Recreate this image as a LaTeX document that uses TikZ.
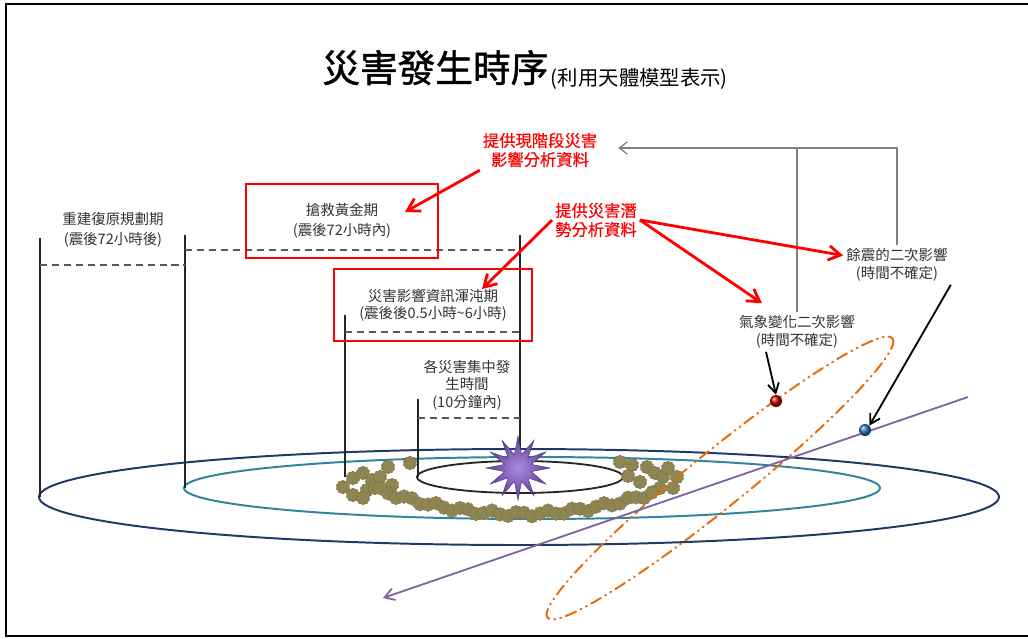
\documentclass[tikz,border=0pt]{standalone}
\usepackage{fontspec}
\setmainfont{Noto Sans CJK TC}
\newfontfamily\heavycjk[FakeBold=1.2]{Noto Sans CJK TC}
\newfontfamily\midcjk[FakeBold=0.5]{Noto Sans CJK TC}
\usetikzlibrary{arrows.meta,calc,positioning,shapes.geometric}

\definecolor{navyorbit}{HTML}{1F3A64}
\definecolor{tealorbit}{HTML}{31849B}
\definecolor{rockfill}{HTML}{8F8552}
\definecolor{rockedge}{HTML}{766C40}
\definecolor{quakein}{HTML}{A98BDB}
\definecolor{quakeout}{HTML}{5E3D99}
\definecolor{trackpurple}{HTML}{8064A2}
\definecolor{cloudorange}{HTML}{E46C0A}
\definecolor{quakeblue}{HTML}{2E75B6}

\begin{document}
\begin{tikzpicture}[x=0.025cm,y=-0.025cm,
  lbl/.style={align=center,text=black!80,inner sep=2pt,font=\fontsize{10.3}{13}\selectfont},
  redlbl/.style={align=center,text=red,inner sep=2pt,font=\midcjk\fontsize{11.6}{13.5}\selectfont},
  redbox/.style={draw=red,line width=1.4pt,align=center,text=black!80,font=\fontsize{10.3}{14.2}\selectfont},
  pole/.style={line width=1.2pt,black!85},
  level/.style={line width=1pt,black!65,dash pattern=on 5pt off 3.5pt},
  hint/.style={line width=2pt,red,-{Straight Barb[length=3mm,width=3.6mm]}},
  feed/.style={line width=0.9pt,black!50},
  pointer/.style={line width=1.3pt,black,-{Straight Barb[length=2.4mm,width=2.8mm]}},
  rock/.style={star,star points=10,star point ratio=1.2,minimum size=0.36cm,inner sep=0,rounded corners=0.4pt,
    fill=rockfill,draw=rockedge,line width=0.2pt},
  ball/.style={circle,minimum size=0.3cm,inner sep=0}]
\useasboundingbox (0,0) rectangle (1028,639);
\draw[line width=1.6pt] (1028,4) -- (6,4) -- (6,636) -- (1028,636);

\node[anchor=base west,inner sep=0,font=\heavycjk\fontsize{26.8}{30}\selectfont] (title) at (322,82) {災害發生時序};
\node[anchor=base west,inner sep=0,font=\fontsize{14.5}{16}\selectfont] (subtitle) at ($(title.base east)+(2,3)$) {(利用天體模型表示)};

\draw[navyorbit,line width=1.4pt] (519,497) ellipse (480 and 48);
\draw[tealorbit,line width=1.4pt] (532,488) ellipse (348 and 31);
\draw[black!85,line width=1.3pt] (520,477) ellipse (103 and 16);

\foreach \x/\y [count=\i] in {343/487,353/478,363/473,372/480,380/477,388/467,410/463,392/485,
    353/495,367/490,363/498,375/488,620/462,632/465,647/467,655/473,663/477,677/477,
    673/488,640/482,628/476,660/488,668/468}
  \node[rock] (rockA\i) at (\x,\y) {};
\foreach \x [count=\i] in {380,388,...,652}{
  \pgfmathsetmacro{\y}{514-0.12*((\x-520)/10)^2+2.5*sin(\x*13)}
  \node[rock] (rockB\i) at (\x,\y) {};
}

\foreach \x/\y/\t in {40/238/497,185/235/488,520/235/448,345/315/477,418/399/477}
  \draw[pole] (\x,\y) -- (\x,\t);
\foreach \x/\t/\y in {40/185/265,185/520/250,345/520/332,418/520/418}
  \draw[level] (\x,\y) -- (\t,\y);

\node[lbl,font=\fontsize{10.3}{14.2}\selectfont] (rebuild) at (113,230) {重建復原規劃期\\(震後72小時後)};
\node[redbox,minimum width=4.8cm,minimum height=1.85cm] (golden) at (342,221) {搶救黃金期\\(震後72小時內)};
\node[redbox,minimum width=4.95cm,minimum height=1.8cm,font=\fontsize{10.3}{12.4}\selectfont] (chaos) at (433,305) {災害影響資訊渾沌期\\(震後後0.5小時\textasciitilde6小時)};
\node[lbl,font=\fontsize{10.3}{12.4}\selectfont] (strike) at (467,385) {各災害集中發\\生時間\\(10分鐘內)};

\node[redlbl] (info1) at (540,150) {提供現階段災害\\影響分析資料};
\node[redlbl] (info2) at (596,220) {提供災害潛\\勢分析資料};
\node[lbl] (after) at (897,265) {餘震的二次影響\\(時間不確定)};
\node[lbl] (weather) at (797,332) {氣象變化二次影響\\(時間不確定)};

\draw[cloudorange,line width=1.4pt,line cap=round,
  dash pattern=on 8pt off 3.5pt on 0.8pt off 3.5pt on 0.8pt off 3.5pt,
  rotate around={39:(720,478)}] (720,478) ellipse (222 and 28);

\coordinate (trackstart) at (968,397);
\coordinate (trackend) at (383,598);
\draw[trackpurple,line width=1.3pt,-{Straight Barb[length=2.4mm,width=3mm]}] (trackstart) -- (trackend);

\node[star,star points=12,star point ratio=2.3,minimum size=1.6cm,inner sep=0,
  inner color=quakein,outer color=quakeout,draw=quakeout!80!black,line width=0.3pt] (quake) at (518,468) {};

\node[ball,ball color=red!75!black] (wball) at (776,401) {};
\node[ball,ball color=quakeblue] (qball) at (865,430) {};

\coordinate (feedjoin) at ($(info1.east)+(18,-2)$);
\draw[feed,-{Straight Barb[length=2mm,width=3mm]}] (after.north) |- (feedjoin);
\draw[feed] (weather.north) -- (weather.north |- feedjoin);

\coordinate (goldtip) at (405,212);
\coordinate (chaostip) at (482,289);
\draw[hint] (info1.south west) -- (goldtip);
\draw[hint] (info2.west) -- (chaostip);
\draw[hint] (info2.east) -- (after.170);
\draw[hint] (info2.east) -- ($(weather.north west)+(26,-9)$);

\draw[pointer] ($(weather.south)+(-31,0)$) -- (wball.north);
\draw[pointer] (after.south east) -- (qball.north east);
\end{tikzpicture}
\end{document}
